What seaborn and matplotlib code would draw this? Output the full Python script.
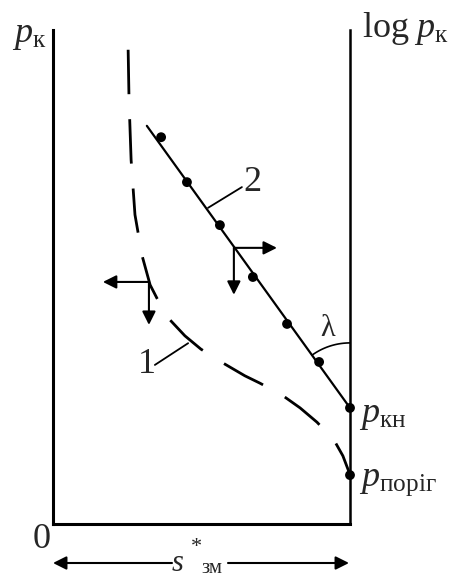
import numpy as np
import pandas as pd
import matplotlib.pyplot as plt
import seaborn as sns

# curve 1 (dashed): s*_zm share vs p_k (axes units 0..1)
curve1_x = [0.253, 0.256, 0.263, 0.276, 0.300, 0.327, 0.350, 0.391, 0.444, 0.498,
            0.572, 0.646, 0.697, 0.771, 0.832, 0.889, 0.946, 0.976, 1.000]
curve1_y = [0.960, 0.858, 0.737, 0.626, 0.543, 0.484, 0.457, 0.415, 0.381, 0.354,
            0.326, 0.300, 0.285, 0.261, 0.235, 0.206, 0.170, 0.138, 0.100]

# line 2 (log p_k) and its measured points
line2_x = [0.316, 1.000]
line2_y = [0.806, 0.235]
dots_x = [0.364, 0.451, 0.562, 0.673, 0.788, 0.896, 1.000, 1.000]
dots_y = [0.783, 0.692, 0.605, 0.500, 0.405, 0.328, 0.235, 0.099]

W, H = 458, 579


def px(x, y):
    # pixel position (from top-left) -> figure fraction
    return x / W, 1 - y / H


sns.set_theme(style="white")
plt.rcParams['font.family'] = ['Liberation Serif', 'DejaVu Serif']
plt.rcParams['mathtext.fontset'] = 'custom'
plt.rcParams['mathtext.rm'] = 'Liberation Serif'
plt.rcParams['mathtext.it'] = 'Liberation Serif:italic'

fig = plt.figure(figsize=(W / 100, H / 100), dpi=100)
ax = fig.add_axes([53 / W, 55 / H, 297 / W, 494 / H])

c1 = pd.DataFrame({'x': curve1_x, 'y': curve1_y})
l2 = pd.DataFrame({'x': line2_x, 'y': line2_y})
pts = pd.DataFrame({'x': dots_x, 'y': dots_y})

sns.lineplot(data=c1, x='x', y='y', ax=ax, color='black', lw=2.0,
             sort=False, estimator=None, linestyle=(0, (16, 9)))
sns.lineplot(data=l2, x='x', y='y', ax=ax, color='black', lw=1.6,
             sort=False, estimator=None)
sns.scatterplot(data=pts, x='x', y='y', ax=ax, color='black', s=50,
                edgecolor='none', zorder=5, clip_on=False)

ax.set_xlim(0, 1)
ax.set_ylim(0, 1)
ax.set_xlabel('')
ax.set_ylabel('')
ax.set_xticks([])
ax.set_yticks([])
ax.spines['top'].set_visible(False)
for side, w in [('left', 2.2), ('bottom', 2.2), ('right', 1.8)]:
    ax.spines[side].set_color('black')
    ax.spines[side].set_linewidth(w)

arrow = dict(arrowstyle='-|>', color='black', lw=1.5, mutation_scale=20,
             shrinkA=0, shrinkB=0)
plain = dict(arrowstyle='-', color='black', lw=1.3, shrinkA=0, shrinkB=0)

# direction arrows on line 2 and curve 1
for start, end in [((0.609, 0.559), (0.754, 0.559)), ((0.609, 0.559), (0.609, 0.464)),
                   ((0.323, 0.490), (0.168, 0.490)), ((0.323, 0.490), (0.323, 0.403))]:
    ax.annotate('', xy=end, xytext=start, arrowprops=arrow)

# leaders for labels 1 and 2
ax.annotate('', xy=(0.455, 0.366), xytext=(0.343, 0.322), arrowprops=plain)
ax.annotate('', xy=(0.522, 0.640), xytext=(0.636, 0.682), arrowprops=plain)
ax.text(0.316, 0.322, '1', fontsize=26, ha='center', va='center')
ax.text(0.672, 0.692, '2', fontsize=26, ha='center', va='center')

# angle lambda between line 2 and the right axis
t = np.radians(np.linspace(90, 125.7, 30))
ax.plot(1 + 65 / 297 * np.cos(t), 0.235 + 65 / 494 * np.sin(t), color='black', lw=1.2)
ax.text(0.926, 0.395, 'λ', fontsize=22, ha='center', va='center')

# axis labels
fig.text(*px(12, 42), r'$p_{\mathrm{к}}$', fontsize=26, ha='left', va='baseline')
fig.text(*px(362, 37), r'$\mathrm{log}\ p_{\mathrm{к}}$', fontsize=26, ha='left', va='baseline')
fig.text(*px(359, 422), r'$p_{\mathrm{кн}}$', fontsize=26, ha='left', va='baseline')
fig.text(*px(359, 486), r'$p_{\mathrm{поріг}}$', fontsize=26, ha='left', va='baseline')
fig.text(*px(42, 540), '0', fontsize=26, ha='center', va='center')

# s*_zm span arrows under the axis
for x0, x1 in [(172, 53), (228, 349)]:
    fig.add_artist(plt.matplotlib.patches.FancyArrowPatch(
        px(x0, 563), px(x1, 563), transform=fig.transFigure,
        arrowstyle='-|>', mutation_scale=20, color='black', lw=1.5,
        shrinkA=0, shrinkB=0))
fig.text(*px(172, 571), 's', fontsize=22, style='italic', ha='left', va='baseline')
fig.text(*px(196, 548), '*', fontsize=16, ha='center', va='center')
fig.text(*px(201, 578), 'зм', fontsize=15, ha='left', va='bottom')

fig.savefig('out.png', dpi=100)
